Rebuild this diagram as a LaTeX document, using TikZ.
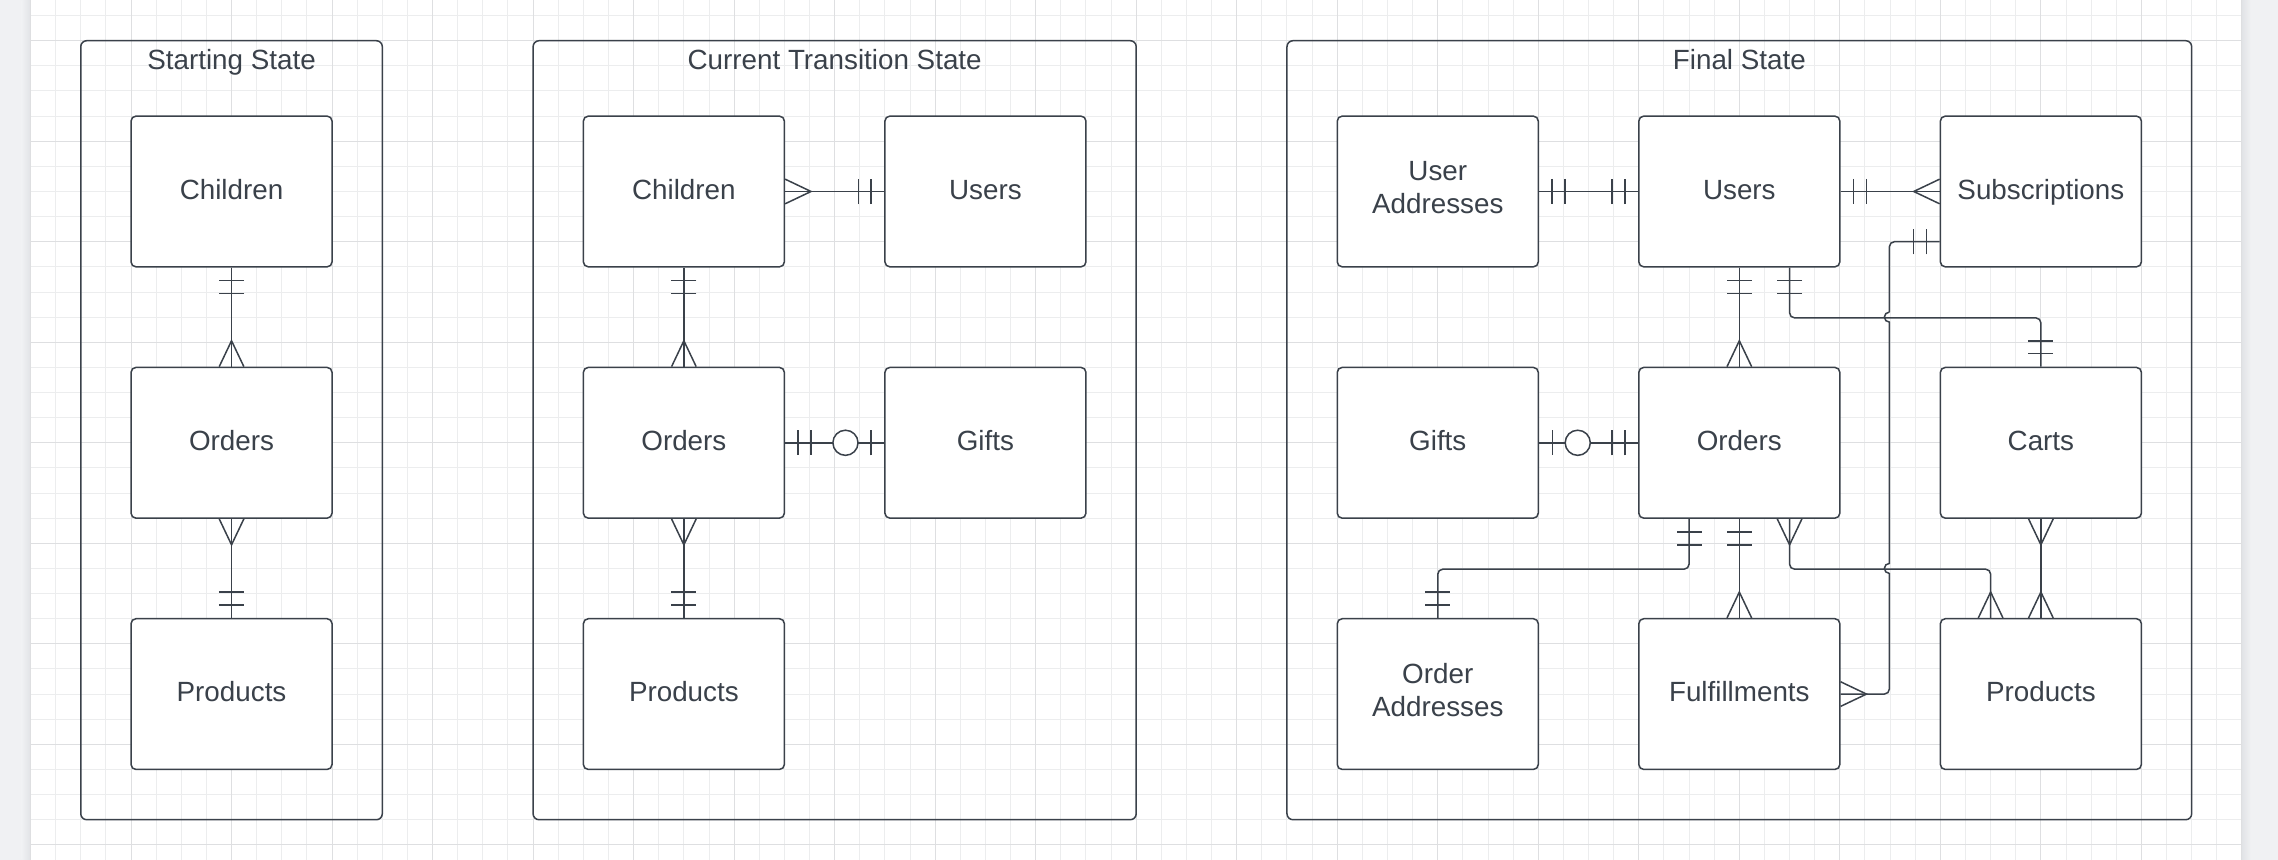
\documentclass[tikz,border=0pt]{standalone}
\usepackage{fontspec}
\setmainfont{Liberation Sans}
\usetikzlibrary{calc}
\definecolor{ink}{RGB}{58,65,74}
\definecolor{gminor}{RGB}{236,237,238}
\definecolor{gmajor}{RGB}{222,223,225}
\definecolor{strip}{RGB}{240,241,243}
\definecolor{stripdark}{RGB}{225,227,230}
\begin{document}
\begin{tikzpicture}[x=25.13pt,y=-25.13pt,
  conn/.style={draw=ink,line width=1.5pt},
  erbox/.style={draw=ink,line width=1.5pt,fill=white,rounded corners=5pt,
    minimum width=201.04pt,minimum height=150.78pt,inner sep=0pt,align=center,
    text=ink,font=\fontsize{27.8}{33}\selectfont,text height=20pt,text depth=4.4pt},
  twoline/.style={text height=53pt,text depth=8.8pt},
  stateframe/.style={draw=ink,line width=1.5pt,rounded corners=6pt,
    minimum height=779.03pt,inner sep=0pt},
  frametitle/.style={text=ink,font=\fontsize{27.8}{33}\selectfont,anchor=base,inner sep=0pt},
  erone/.pic={\draw[conn] (0.52,-0.5)--(0.52,0.5) (1.03,-0.5)--(1.03,0.5);},
  ermany/.pic={\draw[conn] (0,-0.49)--(1.03,0)--(0,0.49);},
  erzone/.pic={\draw[conn] (0.53,-0.5)--(0.53,0.5); \draw[conn,fill=white] (1.54,0) circle (0.5);}
]
\useasboundingbox (-1.2137,-1.6196) rectangle (89.4361,32.6025);
% background
\fill[white] (0,-1.6196) rectangle (88,32.6025);
\fill[strip] (-1.2137,-1.6196) rectangle (0,32.6025);
\fill[strip] (88,-1.6196) rectangle (89.4361,32.6025);
\shade[left color=strip,right color=stripdark] (-0.35,-1.6196) rectangle (0,32.6025);
\shade[left color=stripdark,right color=strip] (88,-1.6196) rectangle (88.35,32.6025);
% grid
\foreach \i in {0,...,88} \draw[gminor,line width=1pt] (\i,-1.6196) -- (\i,32.6025);
\foreach \j in {-1,...,32} \draw[gminor,line width=1pt] (0,\j) -- (88,\j);
\foreach \i in {0,4,...,88} \draw[gmajor,line width=1pt] (\i,-1.6196) -- (\i,32.6025);
\foreach \j in {0,4,...,32} \draw[gmajor,line width=1pt] (0,\j) -- (88,\j);

% frames
\node[stateframe,minimum width=301.56pt] (sframe) at (8,15.5) {};
\node[stateframe,minimum width=603.12pt] (tframe) at (32,15.5) {};
\node[stateframe,minimum width=904.68pt] (fframe) at (68,15.5) {};
\node[frametitle] (stitle) at (8,1.14) {Starting State};
\node[frametitle] (ttitle) at (32,1.14) {Current Transition State};
\node[frametitle] (ftitle) at (68,1.14) {Final State};

% Starting state
\node[erbox] (sc) at (8,6) {Children};
\node[erbox] (so) at (8,16) {Orders};
\node[erbox] (sp) at (8,26) {Products};

% Current transition state
\node[erbox] (tc) at (26,6) {Children};
\node[erbox] (tu) at (38,6) {Users};
\node[erbox] (to) at (26,16) {Orders};
\node[erbox] (tg) at (38,16) {Gifts};
\node[erbox] (tp) at (26,26) {Products};

% Final state
\node[erbox,twoline] (fua) at (56,6) {User\\Addresses};
\node[erbox] (fu) at (68,6) {Users};
\node[erbox] (fs) at (80,6) {Subscriptions};
\node[erbox] (fg) at (56,16) {Gifts};
\node[erbox] (fo) at (68,16) {Orders};
\node[erbox] (fca) at (80,16) {Carts};
\node[erbox,twoline] (foa) at (56,26) {Order\\Addresses};
\node[erbox] (ff) at (68,26) {Fulfillments};
\node[erbox] (fp) at (80,26) {Products};

% ---- Starting connectors
\draw[conn] (sc.south) -- (so.north);
\pic[rotate=-90] at (sc.south) {erone};
\pic[rotate=90] at (so.north) {ermany};
\draw[conn] (so.south) -- (sp.north);
\pic[rotate=-90] at (so.south) {ermany};
\pic[rotate=90] at (sp.north) {erone};

% ---- Current connectors
\draw[conn] (tc.east) -- (tu.west);
\pic at (tc.east) {ermany};
\pic[rotate=180] at (tu.west) {erone};
\draw[conn] (tc.south) -- (to.north);
\pic[rotate=-90] at (tc.south) {erone};
\pic[rotate=90] at (to.north) {ermany};
\draw[conn] (to.east) -- (tg.west);
\pic at (to.east) {erone};
\pic[rotate=180] at (tg.west) {erzone};
\draw[conn] (to.south) -- (tp.north);
\pic[rotate=-90] at (to.south) {ermany};
\pic[rotate=90] at (tp.north) {erone};

% ---- Final connectors
\draw[conn] (fua.east) -- (fu.west);
\pic at (fua.east) {erone};
\pic[rotate=180] at (fu.west) {erone};
\draw[conn] (fu.east) -- (fs.west);
\pic at (fu.east) {erone};
\pic[rotate=180] at (fs.west) {ermany};
\draw[conn] (fu.south) -- (fo.north);
\pic[rotate=-90] at (fu.south) {erone};
\pic[rotate=90] at (fo.north) {ermany};
% Users - Carts
\draw[conn,rounded corners=5pt] ($(fu.south)+(2,0)$) -- ($(fu.south)+(2,2)$) -| (fca.north);
\pic[rotate=-90] at ($(fu.south)+(2,0)$) {erone};
\pic[rotate=90] at (fca.north) {erone};
% Subscriptions - Fulfillments (with line hops)
\draw[conn,rounded corners=5pt] ($(fs.west)+(0,2)$) -- ($(fs.west)+(-2,2)$) -- ($(fs.west)+(-2,4.8)$);
\draw[conn] ($(fs.west)+(-2,4.8)$) arc[start angle=90,end angle=270,radius=5pt]
  -- ($(fs.west)+(-2,14.8)$) arc[start angle=90,end angle=270,radius=5pt];
\draw[conn,rounded corners=5pt] ($(fs.west)+(-2,15.19)$) -- ($(fs.west)+(-2,20)$) -- (ff.east);
\pic[rotate=180] at ($(fs.west)+(0,2)$) {erone};
\pic at (ff.east) {ermany};
% Gifts - Orders
\draw[conn] (fg.east) -- (fo.west);
\pic at (fg.east) {erzone};
\pic[rotate=180] at (fo.west) {erone};
% Orders - Order Addresses
\draw[conn,rounded corners=5pt] ($(fo.south)+(-2,0)$) -- ($(fo.south)+(-2,2)$) -| (foa.north);
\pic[rotate=-90] at ($(fo.south)+(-2,0)$) {erone};
\pic[rotate=90] at (foa.north) {erone};
% Orders - Fulfillments
\draw[conn] (fo.south) -- (ff.north);
\pic[rotate=-90] at (fo.south) {erone};
\pic[rotate=90] at (ff.north) {ermany};
% Orders - Products
\draw[conn,rounded corners=5pt] ($(fo.south)+(2,0)$) -- ($(fo.south)+(2,2)$) -| ($(fp.north)+(-2,0)$);
\pic[rotate=-90] at ($(fo.south)+(2,0)$) {ermany};
\pic[rotate=90] at ($(fp.north)+(-2,0)$) {ermany};
% Carts - Products
\draw[conn] (fca.south) -- (fp.north);
\pic[rotate=-90] at (fca.south) {ermany};
\pic[rotate=90] at (fp.north) {ermany};
\end{tikzpicture}
\end{document}
